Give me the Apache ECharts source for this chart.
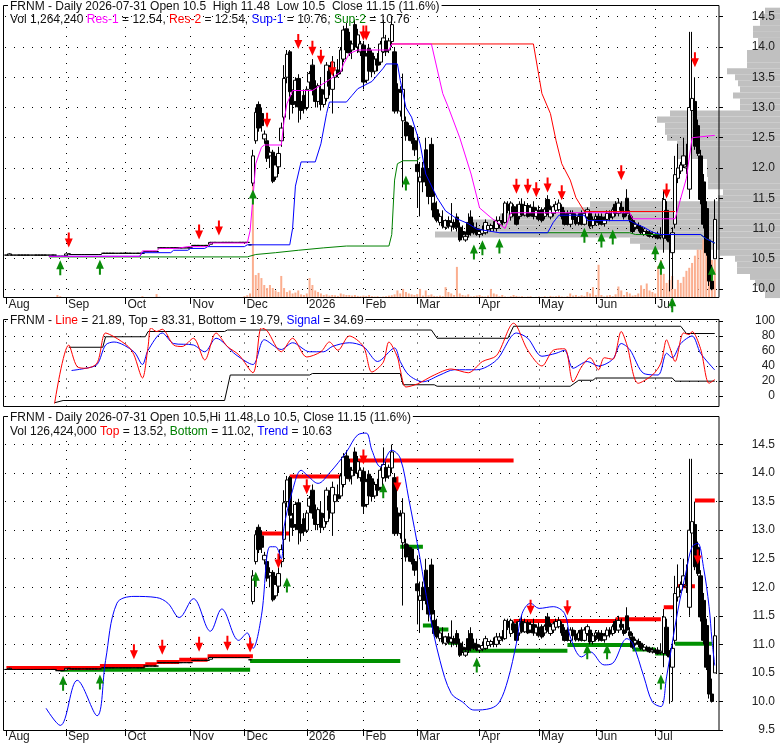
<!DOCTYPE html>
<html><head><meta charset="utf-8">
<script src="https://cdn.jsdelivr.net/npm/echarts@6/dist/echarts.min.js"></script>
<style>html,body{margin:0;padding:0;background:#fff}#c{width:780px;height:745px}</style>
</head><body><div id="c"></div>
<script>
// ---------- categories (trading days) ----------
const holidays = ['2025-09-01','2025-11-27','2025-12-25','2026-01-01','2026-01-19','2026-02-16','2026-04-03','2026-05-25','2026-06-19','2026-07-03'];
const dates = [];
for (let t = Date.UTC(2025,7,1); t <= Date.UTC(2026,6,31); t += 86400000) {
  const d = new Date(t), wd = d.getUTCDay(), s = d.toISOString().slice(0,10);
  if (wd === 0 || wd === 6 || holidays.includes(s)) continue;
  dates.push(s);
}
const cats = dates.concat(['']);
const monthNames = ['Jan','Feb','Mar','Apr','May','Jun','Jul','Aug','Sep','Oct','Nov','Dec'];

// ---------- price data ----------
const open = [
10.56,10.56,10.56,10.56,10.56,10.56,10.56,10.56,10.56,10.56,
10.56,10.56,10.56,10.56,10.56,10.56,10.56,10.56,10.54,10.54,
10.54,10.55,10.58,10.57,10.57,10.57,10.57,10.57,10.57,10.57,
10.57,10.57,10.57,10.57,10.59,10.59,10.59,10.59,10.59,10.59,
10.59,10.59,10.59,10.59,10.59,10.59,10.59,10.59,10.59,10.62,
10.62,10.62,10.62,10.62,10.68,10.68,10.68,10.68,10.68,10.68,
10.68,10.68,10.68,10.68,10.68,10.68,10.72,10.72,10.72,10.72,
10.72,10.72,10.74,10.77,10.77,10.77,10.77,10.77,10.77,10.77,
10.77,10.77,10.77,10.77,10.77,10.77,10.73,
11.75,12.45,13.05,
12.90,12.48,12.45,12.20,12.26,11.85,12.02,12.45,12.84,13.50,
13.92,13.20,13.10,13.48,13.10,13.20,13.00,13.42,13.70,13.30,
13.10,13.30,13.05,13.15,13.60,13.30,13.50,13.62,13.60,13.80,
14.30,14.10,13.95,14.37,14.00,13.92,14.03,13.45,13.98,13.90,
13.60,13.80,13.75,13.92,14.10,13.95,14.09,13.92,13.30,12.94,
12.78,12.76,12.70,12.67,12.45,12.06,11.77,12.00,12.30,11.89,
12.39,11.42,11.31,11.10,11.13,11.02,11.13,11.04,11.10,11.19,
11.02,10.95,10.81,11.10,11.19,11.02,11.00,10.90,10.92,10.93,
10.98,11.00,11.05,11.00,11.07,11.13,11.10,11.40,11.19,11.36,
11.31,11.20,11.40,11.22,11.38,11.25,11.35,11.20,11.30,11.31,
11.20,11.48,11.19,11.25,11.30,11.31,11.35,11.22,11.25,11.07,
11.25,11.18,11.10,11.25,11.07,11.19,11.25,11.05,11.15,11.20,
11.19,11.08,11.15,11.25,11.19,11.40,11.25,11.35,11.25,11.50,
11.22,11.13,11.02,11.05,11.02,10.90,10.95,10.93,10.87,10.90,
10.90,10.86,10.84,11.30,10.84,10.60,11.07,11.83,11.95,12.05,
12.00,11.65,12.95,13.10,12.70,12.20,11.77,11.33,10.81,10.13,
10.50];
const high = [
10.56,10.59,10.56,10.56,10.56,10.56,10.56,10.56,10.56,10.56,
10.56,10.56,10.56,10.56,10.56,10.56,10.56,10.56,10.54,10.54,
10.54,10.58,10.58,10.57,10.57,10.57,10.57,10.57,10.57,10.57,
10.57,10.57,10.57,10.57,10.59,10.59,10.59,10.59,10.59,10.59,
10.59,10.59,10.59,10.59,10.59,10.59,10.59,10.59,10.59,10.62,
10.62,10.62,10.62,10.62,10.68,10.68,10.68,10.68,10.68,10.68,
10.68,10.68,10.68,10.68,10.68,10.68,10.72,10.72,10.72,10.72,
10.72,10.72,10.78,10.77,10.77,10.77,10.77,10.77,10.77,10.77,
10.77,10.77,10.77,10.77,10.77,10.77,10.73,
12.30,13.00,13.10,
13.00,12.62,12.50,12.35,12.30,12.20,12.35,12.75,13.70,13.95,
13.95,13.30,13.50,13.55,13.30,13.30,13.35,13.60,13.80,13.45,
13.40,13.50,13.30,13.75,13.70,13.85,13.70,13.80,14.00,14.35,
14.40,14.25,14.10,14.45,14.30,14.10,14.10,13.90,14.05,13.95,
13.85,13.90,14.10,14.45,14.20,14.15,14.50,14.00,13.40,13.35,
13.56,12.85,12.75,12.70,12.50,12.56,12.10,12.10,12.50,12.00,
12.50,11.60,11.45,11.25,11.30,11.15,11.20,11.42,11.15,11.25,
11.10,11.05,10.95,11.25,11.30,11.10,11.10,11.00,11.05,11.15,
11.10,11.08,11.12,11.20,11.20,11.25,11.45,11.45,11.45,11.40,
11.40,11.45,11.50,11.45,11.42,11.40,11.45,11.35,11.38,11.35,
11.35,11.55,11.38,11.40,11.45,11.48,11.40,11.30,11.30,11.30,
11.30,11.25,11.25,11.30,11.30,11.35,11.30,11.20,11.25,11.25,
11.25,11.20,11.30,11.30,11.35,11.45,11.50,11.45,11.35,11.65,
11.30,11.20,11.10,11.10,11.05,11.00,10.98,10.96,10.95,10.92,
10.95,11.02,11.62,11.45,10.90,11.02,12.20,12.40,12.10,12.50,
12.40,14.25,14.25,13.50,12.80,12.30,11.90,11.45,10.90,10.40,
11.48];
const low = [
10.56,10.56,10.56,10.56,10.56,10.56,10.56,10.56,10.56,10.56,
10.56,10.56,10.56,10.56,10.56,10.56,10.56,10.56,10.54,10.54,
10.54,10.55,10.58,10.57,10.57,10.57,10.57,10.57,10.57,10.57,
10.57,10.57,10.57,10.57,10.59,10.59,10.59,10.59,10.59,10.59,
10.59,10.59,10.59,10.59,10.59,10.59,10.59,10.59,10.59,10.62,
10.62,10.62,10.62,10.62,10.68,10.68,10.68,10.68,10.68,10.68,
10.68,10.68,10.68,10.68,10.68,10.68,10.72,10.72,10.72,10.72,
10.72,10.72,10.74,10.77,10.77,10.77,10.77,10.77,10.77,10.77,
10.77,10.77,10.77,10.77,10.77,10.77,10.73,
11.70,12.40,12.60,
12.60,12.40,12.10,12.00,11.75,11.80,11.90,12.35,12.60,13.40,
12.80,12.90,13.00,12.75,12.80,12.90,12.95,13.30,13.20,13.00,
13.00,12.95,13.00,13.10,13.20,12.90,13.35,13.50,13.55,13.75,
13.90,13.85,13.80,13.95,13.90,13.85,13.30,13.40,13.50,13.50,
13.55,13.60,13.70,13.90,13.85,13.90,14.00,12.90,12.90,12.85,
11.68,12.45,12.45,12.40,12.20,11.35,11.20,11.60,11.70,11.40,
11.30,11.15,11.10,11.05,11.00,10.98,11.00,10.95,10.98,10.95,
10.78,10.85,10.78,10.85,10.88,10.90,10.88,10.85,10.88,10.90,
10.92,10.95,10.95,10.95,11.00,11.05,11.08,11.25,11.13,11.20,
11.05,11.15,11.20,11.20,11.18,11.20,11.15,11.15,11.12,11.10,
11.15,11.22,11.15,11.20,11.25,11.28,11.15,11.05,11.05,11.02,
11.10,11.05,11.05,11.05,11.05,11.15,11.00,11.00,11.05,11.05,
11.05,11.03,11.10,11.12,11.15,11.20,11.20,11.25,11.15,11.20,
11.10,10.92,10.98,10.95,10.90,10.88,10.88,10.85,10.84,10.83,
10.82,10.82,10.60,10.80,9.96,10.00,11.00,11.75,11.90,12.00,
11.90,11.50,12.50,12.30,12.20,11.40,11.00,10.55,10.05,9.98,
10.50];
const close = [
10.56,10.58,10.56,10.56,10.56,10.56,10.56,10.56,10.56,10.56,
10.56,10.56,10.56,10.56,10.56,10.56,10.56,10.56,10.54,10.54,
10.54,10.58,10.58,10.57,10.57,10.57,10.57,10.57,10.57,10.57,
10.57,10.57,10.57,10.57,10.59,10.59,10.59,10.59,10.59,10.59,
10.59,10.59,10.59,10.59,10.59,10.59,10.59,10.59,10.59,10.62,
10.62,10.62,10.62,10.62,10.68,10.68,10.68,10.68,10.68,10.68,
10.68,10.68,10.68,10.68,10.68,10.68,10.72,10.72,10.72,10.72,
10.72,10.72,10.77,10.77,10.77,10.77,10.77,10.77,10.77,10.77,
10.77,10.77,10.77,10.77,10.77,10.77,10.73,
12.20,12.92,12.66,
12.70,12.56,12.16,12.26,11.78,12.05,12.24,12.66,13.48,13.88,
13.26,13.05,13.45,13.01,12.95,12.98,13.30,13.56,13.30,13.10,
13.36,13.05,13.22,13.70,13.35,13.75,13.62,13.55,13.95,14.28,
13.95,13.90,14.05,14.00,14.20,14.05,13.42,13.85,13.60,13.59,
13.80,13.70,14.05,14.15,13.92,14.10,14.37,12.94,13.00,13.25,
13.30,12.53,12.55,12.45,12.30,11.94,11.85,11.77,11.77,11.53,
11.53,11.19,11.13,11.20,11.04,11.13,11.04,11.10,11.02,11.02,
10.81,10.90,10.87,10.90,10.93,10.93,10.90,10.95,10.98,11.10,
11.05,11.05,11.00,11.13,11.13,11.10,11.42,11.30,11.42,11.25,
11.07,11.40,11.22,11.38,11.20,11.35,11.20,11.30,11.15,11.13,
11.32,11.25,11.31,11.36,11.40,11.42,11.20,11.07,11.07,11.25,
11.15,11.08,11.20,11.07,11.25,11.31,11.04,11.15,11.20,11.10,
11.07,11.15,11.25,11.18,11.31,11.25,11.42,11.30,11.19,11.25,
11.15,10.95,11.07,11.00,10.93,10.95,10.90,10.87,10.90,10.86,
10.84,10.88,11.48,10.84,10.78,10.93,11.89,12.00,12.05,12.20,
12.02,13.00,13.15,12.36,12.24,11.48,11.07,10.60,10.13,10.00,
11.15];
// volume, thousands of shares
const volume = [
0,10,0,0,0,0,0,0,0,0,
0,0,0,0,0,0,0,0,100,60,
10,20,10,0,0,0,0,0,0,0,
0,0,0,0,10,0,0,0,0,0,
0,0,0,0,0,0,0,0,60,20,
10,0,0,130,40,0,0,0,0,0,
0,0,0,0,0,0,0,0,0,0,
0,0,10,0,0,0,0,0,0,0,
0,0,0,0,60,90,150,
3860,760,830,
660,430,330,430,330,250,200,730,330,200,
250,150,180,250,120,100,150,660,430,250,
200,150,100,120,80,100,90,70,150,120,
100,100,80,100,70,60,80,70,100,60,
50,60,40,50,60,80,90,120,250,150,
300,200,150,120,100,130,300,80,250,90,
120,70,60,80,60,360,200,150,100,1030,
150,100,80,120,50,60,80,100,60,50,
80,300,150,120,60,100,50,40,60,100,
70,50,60,40,50,60,30,40,50,40,
60,40,70,50,60,80,50,40,60,150,
80,100,60,90,70,200,150,360,100,1100,
100,50,80,100,60,120,380,250,100,200,
150,80,100,150,420,300,480,250,200,150,
1060,1260,800,500,600,730,300,600,500,700,
900,1000,1160,1400,1600,1600,1930,1720,1260,1260,
1264];

// volume by price (thousands), bins of 0.1
const profBins = ['9.9','10.0','10.1','10.2','10.3','10.4','10.5','10.6','10.7','10.8',
'10.9','11.0','11.1','11.2','11.3','11.4','11.5','11.6','11.7','11.8',
'11.9','12.0','12.1','12.2','12.3','12.4','12.5','12.6','12.7','12.8',
'12.9','13.0','13.1','13.2','13.3','13.4','13.5','13.6','13.7','13.8',
'13.9','14.0','14.1','14.2','14.3','14.4','14.5','14.6'];
const profVol = [600,800,1000,1200,1720,1720,1800,2400,5600,6000,
13800,12400,12400,11200,8800,7600,2480,2280,2880,2880,
2920,2920,2920,4120,4120,4120,4520,4600,4600,4920,
4400,1600,1600,1880,1600,1680,1800,2120,1320,1320,
1320,880,880,1080,1080,800,800,600];

// top panel support / resistance lines [dayIndex, price]
const sup1 = [[15,10.54],[47,10.54],[48,10.6],[58,10.6],[59,10.64],[64,10.64],[65,10.67],[70,10.67],[71,10.7],[84,10.7],[85,10.73],[100,10.73],[101,11.0],[102,11.7],[104,12.1],[109,12.1],[111,12.4],[113,12.9],[114,13.09],[120,13.09],[122,13.2],[124,13.31],[129,13.43],[133,13.65],[134,13.72],[138,13.72],[139,13.45],[141,13.0],[143,12.84],[146,12.4],[148,11.9],[152,11.51],[155,11.29],[159,11.16],[163,11.08],[166,10.99],[174,10.93],[191,10.93],[193,11.1],[195,11.22],[204,11.22],[205,11.13],[220,11.13],[222,11.08],[225,11.02],[228,10.94],[231,10.9],[245,10.9],[247,10.83],[250,10.76]];
const sup2 = [[15,10.53],[85,10.53],[88,10.57],[95,10.6],[103,10.64],[112,10.68],[120,10.71],[135,10.71],[136,10.9],[137,11.8],[138,12.07],[140,12.12],[145,12.12],[146,12.18],[147,null],[174,10.93],[220,10.93],[222,10.9],[245,10.9],[247,10.83],[250,10.76]];
const res1 = [[15,10.54],[47,10.54],[48,10.63],[53,10.63],[54,10.67],[60,10.67],[64,10.7],[71,10.7],[72,10.76],[85,10.76],[86,10.96],[87,11.5],[88,12.07],[90,12.34],[91,12.38],[97,12.38],[98,12.78],[99,13.06],[101,13.28],[108,13.28],[110,13.34],[114,13.46],[118,13.59],[119,13.72],[121,13.89],[124,13.95],[135,13.95],[136,14.05],[150,14.05],[154,13.23],[156,13.0],[160,12.5],[164,11.9],[167,11.34],[171,11.18],[176,11.0],[178,11.26],[220,11.26],[221,11.16],[236,11.16],[238,11.5],[240,11.83],[242,12.5],[250,12.54]];
const res2 = [[136,14.05],[186,14.05],[189,13.23],[192,12.9],[194,12.45],[196,12.07],[199,11.8],[201,11.51],[204,11.28],[236,11.28]];
const sellTop = [[22,10.81],[68,10.94],[75,11.01],[92,12.79],[103,14.09],[108,13.98],[111,13.83],[115,13.64],[126,14.23],[127,14.23],[180,11.70],[184,11.70],[187,11.64],[191,11.72],[196,11.59],[217,11.92],[233,11.62],[243,13.79]];
const buyTop = [[19,10.35],[33,10.36],[87,11.52],[141,11.75],[165,10.61],[168,10.68],[174,10.71],[204,10.89],[210,10.81],[214,10.86],[229,10.60],[231,10.36],[235,9.74],[249,10.26]];

// oscillator panel
const oscLine = [[17,-10],[22,68],[25,39],[28,37],[32,44],[35,84],[38,79],[43,66],[45,55],[48,24],[50,66],[51,91],[53,86],[55,89],[59,68],[62,66],[66,77],[70,48],[74,84],[78,66],[82,55],[87,31],[90,91],[92,87],[97,59],[101,77],[106,52],[111,59],[114,72],[117,61],[121,80],[126,66],[129,32],[133,45],[135,72],[138,52],[139,35],[141,12],[145,16],[151,28],[157,36],[163,31],[168,46],[173,54],[179,97],[184,61],[189,40],[193,61],[197,63],[200,19],[203,39],[206,51],[209,35],[211,51],[214,49],[217,86],[219,68],[223,17],[228,28],[231,44],[233,75],[234,66],[236,46],[239,84],[241,82],[242,86],[245,63],[248,17],[250,21.89]];
const oscSignal = [[23,34],[28,37],[32,42],[35,68],[38,72],[45,59],[48,42],[50,61],[55,84],[59,70],[66,68],[70,59],[74,77],[81,55],[87,42],[91,75],[97,62],[101,71],[107,59],[112,59],[115,66],[121,71],[126,66],[131,46],[137,64],[139,46],[142,28],[147,19],[153,28],[158,35],[166,35],[173,48],[180,84],[184,77],[189,53],[194,57],[197,61],[200,37],[205,46],[209,40],[214,49],[217,70],[220,62],[225,30],[230,28],[233,57],[235,51],[238,70],[242,80],[245,57],[250,34.69]];
const oscTop = [[22,65],[34,65],[35,79],[49,79],[50,86],[77,86],[78,88],[150,88],[152,77],[177,77],[179,93],[238,93],[240,83.31],[250,83.31]];
const oscBottom = [[17,-9],[20,-6],[77,-6],[79,28],[107,28],[108,30],[139,30],[140,15],[151,15],[152,13],[199,13],[202,21],[207,21],[208,24],[235,24],[236,19.79],[250,19.79]];

// bottom panel: [fromDay, toDay, level]
const chTop = [[0,33,10.585],[33,49,10.62],[49,53,10.65],[53,61,10.69],[61,71,10.73],[71,87,10.79],[88,100,12.94],[100,121,13.94],[121,179,14.22],[179,215,11.41],[215,231,11.44],[232,236,11.65],[237,243,12.02],[243,250,13.52]];
const chBottom = [[19,86,10.555],[86,139,10.71],[139,147,12.71],[147,151,11.33],[151,156,11.26],[156,160,11.03],[160,198,10.89],[198,221,10.99],[221,229,10.91],[229,235,10.84],[236,249,11.01]];
const trend = [[14,9.88],[19,9.58],[25,10.37],[32,9.75],[35,10.72],[39,11.72],[45,11.84],[53,11.82],[57,11.72],[61,11.47],[66,11.8],[72,11.23],[76,11.62],[82,11.07],[85,11.2],[87,10.93],[90,11.5],[93,12.71],[95,12.71],[97,12.5],[98,13.06],[101,13.7],[104,14.05],[106,13.97],[110,13.82],[114,14.0],[120,14.37],[124,14.67],[127,14.7],[129,14.4],[132,14.11],[136,14.4],[139,14.26],[142,13.55],[146,12.5],[149,11.63],[153,10.72],[157,10.14],[161,9.99],[165,9.85],[171,9.88],[174,9.99],[177,10.38],[180,11.02],[182,11.54],[185,11.72],[188,11.63],[193,11.66],[197,11.54],[199,11.13],[203,10.78],[206,10.87],[211,10.64],[214,10.67],[219,11.1],[221,11.02],[225,10.43],[228,9.99],[231,9.91],[233,10.43],[237,11.6],[240,12.3],[242,12.71],[244,12.77],[246,12.36],[248,11.66],[249,11.08],[250,10.63]];
const sellBot = [[45,10.87],[55,10.95],[68,11.0],[78,11.02],[86,10.99],[96,12.46],[106,13.76],[126,14.28],[138,13.81],[185,11.65],[198,11.64],[244,12.53]];
const buyBot = [[20,10.32],[33,10.34],[88,12.14],[99,12.04],[133,13.69],[166,10.64],[205,10.87],[212,10.87],[231,10.34]];

const yTicksTop = [10,10.5,11,11.5,12,12.5,13,13.5,14,14.5];
const yTicksBot = [9.5,10,10.5,11,11.5,12,12.5,13,13.5,14,14.5];
const yTicksOsc = [0,20,40,60,80,100];

// ---------- build ----------
const FONT = 'Liberation Sans, Arial, sans-serif';
const monthStart = cats.map((d,i) => d !== '' && (i === 0 || d.slice(0,7) !== cats[i-1].slice(0,7)));
const monthIdx = monthStart.map((v,i) => v ? i : -1).filter(i => i > 0);
const candleData = dates.map((d,i) => [open[i], close[i], low[i], high[i]]);
const segLine = segs => { const o = []; segs.forEach(s => { o.push([s[0], s[2]], [s[1], s[2]], [s[1], null]); }); return o; };
const monthFmt = v => v ? (v.slice(5,7) === '01' ? v.slice(0,4) : monthNames[+v.slice(5,7) - 1]) : '';
const gridMarks = yv => ({
  silent: true, symbol: ['none','none'], z: 1, animation: false,
  label: {show: false}, emphasis: {disabled: true},
  lineStyle: {color: '#000', type: [1, 8], width: 1, opacity: 1},
  data: yv.map(v => ({yAxis: v})).concat(monthIdx.map(i => ({xAxis: cats[i]})))
});
const DOWN = 'path://M3,0L5,0L5,6L8,6L4,15L0,6L3,6Z';
const UP = 'path://M4,0L8,9L5,9L5,15L3,15L3,9L0,9Z';
const arrows = (data, up, xi, yi) => ({
  type: 'scatter', xAxisIndex: xi, yAxisIndex: yi, data: data, clip: false, z: 4,
  symbol: up ? UP : DOWN, symbolSize: [8, 15], silent: true,
  itemStyle: {color: up ? '#0a8c0a' : '#ff0000', opacity: 1}
});
const line = (data, color, xi, yi, extra) => Object.assign({
  type: 'line', xAxisIndex: xi, yAxisIndex: yi, data: data, showSymbol: false, symbol: 'none',
  connectNulls: false, silent: true, lineStyle: {color: color, width: 1}, z: 3
}, extra || {});
const xCat = (gi, showLabels) => ({
  type: 'category', gridIndex: gi, data: cats, boundaryGap: true, z: 3,
  axisLine: {show: false},
  axisTick: {show: showLabels, alignWithLabel: true, length: 6, interval: (i) => monthStart[i], lineStyle: {color: '#000'}},
  axisLabel: {show: showLabels, interval: (i) => monthStart[i], formatter: monthFmt, align: 'left', margin: 1,
    padding: [0,0,0,2], fontSize: 12, color: '#222', fontFamily: FONT},
  splitLine: {show: false}
});
const yVal = (gi, min, max, ticks, fmt) => ({
  type: 'value', gridIndex: gi, position: 'right', min: min, max: max, z: 3,
  splitLine: {show: false}, axisLine: {show: false},
  axisTick: {show: true, length: 4, customValues: ticks, lineStyle: {color: '#000'}},
  axisLabel: {customValues: ticks, formatter: fmt, align: 'right', margin: 56, fontSize: 12, color: '#222', fontFamily: FONT}
});
const rs = c => ({color: c, fontSize: 12, fontFamily: FONT, lineHeight: 14});
const tStyle = {fontSize: 12, fontWeight: 'normal', color: '#111', fontFamily: FONT, lineHeight: 14,
  rich: {k: rs('#111'), m: rs('#ff00ff'), r: rs('#ff0000'), b: rs('#0000ff'), g: rs('#008000')}};
const T = (k, s) => '{' + k + '|' + s + '}';

const option = {
  animation: false,
  backgroundColor: '#fff',
  textStyle: {fontFamily: FONT},
  title: [
    {left: 8, top: 0, padding: [0,2], backgroundColor: '#fff', z: 10, textStyle: tStyle,
     text: T('k','FRNM - Daily 2026-07-31 Open 10.5  High 11.48  Low 10.5  Close 11.15 (11.6%)')},
    {left: 8, top: 13, padding: [0,2], z: 10, textStyle: tStyle,
     text: T('k','Vol 1,264,240 ') + T('m','Res-1') + T('k',' = 12.54, ') + T('r','Res-2') + T('k',' = 12.54, ') + T('b','Sup-1') + T('k',' = 10.76, ') + T('g','Sup-2') + T('k',' = 10.76')},
    {left: 8, top: 314, padding: [0,2], backgroundColor: '#fff', z: 10, textStyle: tStyle,
     text: T('k','FRNM - ') + T('r','Line') + T('k',' = 21.89, Top = 83.31, Bottom = 19.79, ') + T('b','Signal') + T('k',' = 34.69')},
    {left: 8, top: 411, padding: [0,2], backgroundColor: '#fff', z: 10, textStyle: tStyle,
     text: T('k','FRNM - Daily 2026-07-31 Open 10.5,Hi 11.48,Lo 10.5, Close 11.15 (11.6%)')},
    {left: 8, top: 425, padding: [0,2], z: 10, textStyle: tStyle,
     text: T('k','Vol 126,424,000 ') + T('r','Top') + T('k',' = 13.52, ') + T('g','Bottom') + T('k',' = 11.02, ') + T('b','Trend') + T('k',' = 10.63')}
  ],
  graphic: [
    {type: 'rect', z: 5, silent: true, shape: {x: 3.5, y: 5.5, width: 715.5, height: 292}, style: {fill: 'none', stroke: '#000', lineWidth: 1}},
    {type: 'rect', z: 5, silent: true, shape: {x: 3.5, y: 319.5, width: 715.5, height: 87}, style: {fill: 'none', stroke: '#000', lineWidth: 1}},
    {type: 'rect', z: 5, silent: true, shape: {x: 3.5, y: 416.5, width: 715.5, height: 314}, style: {fill: 'none', stroke: '#000', lineWidth: 1}}
  ],
  grid: [
    {left: 5, top: 5, width: 714, height: 293, outerBoundsMode: 'none'},
    {left: 5, top: 319.5, width: 714, height: 87, outerBoundsMode: 'none'},
    {left: 5, top: 416, width: 714, height: 314, outerBoundsMode: 'none'},
    {left: 5, right: 0, top: 7.675, height: 290.4, outerBoundsMode: 'none'}
  ],
  xAxis: [
    xCat(0, true), xCat(1, false), xCat(2, true),
    {type: 'value', gridIndex: 3, inverse: true, min: 0, max: 31000, show: false}
  ],
  yAxis: [
    yVal(0, 9.851, 14.694, yTicksTop, v => v.toFixed(1)),
    {type: 'value', gridIndex: 0, min: 0, max: 9700000, show: false},
    yVal(1, -14, 102, yTicksOsc, v => String(v)),
    yVal(2, 9.5, 15, yTicksBot, v => v.toFixed(1)),
    {type: 'category', gridIndex: 3, data: profBins, show: false, boundaryGap: true}
  ],
  series: [
    // top panel
    {type: 'bar', xAxisIndex: 3, yAxisIndex: 4, data: profVol, barWidth: '100%', barCategoryGap: 0, z: 0, silent: true,
     itemStyle: {color: '#c0c0c0'}},
    {type: 'bar', xAxisIndex: 0, yAxisIndex: 1, data: volume.map(v => v * 1000), barWidth: 2, z: 2, silent: true,
     itemStyle: {color: '#fbae8f'}},
    {type: 'candlestick', xAxisIndex: 0, yAxisIndex: 0, data: candleData, barWidth: 4, z: 2, silent: true,
     itemStyle: {color: '#fff', color0: '#000', borderColor: '#000', borderColor0: '#000', borderColorDoji: '#000', borderWidth: 1},
     markLine: gridMarks(yTicksTop)},
    line(sup2, '#008000', 0, 0),
    line(res2, '#ff0000', 0, 0),
    line(sup1, '#0000ff', 0, 0),
    line(res1, '#ff00ff', 0, 0),
    arrows(sellTop, false, 0, 0),
    arrows(buyTop, true, 0, 0),
    // oscillator
    line(oscTop, '#000', 1, 2, {markLine: gridMarks(yTicksOsc)}),
    line(oscBottom, '#000', 1, 2),
    line(oscSignal, '#0000ff', 1, 2, {smooth: 0.3}),
    line(oscLine, '#ff0000', 1, 2, {smooth: 0.3}),
    // bottom panel
    line(segLine(chBottom), '#009000', 2, 3, {lineStyle: {color: '#009000', width: 4}, z: 1}),
    line(segLine(chTop), '#ff0000', 2, 3, {lineStyle: {color: '#ff0000', width: 4}, z: 1}),
    {type: 'candlestick', xAxisIndex: 2, yAxisIndex: 3, data: candleData, barWidth: 4, z: 2, silent: true,
     itemStyle: {color: '#fff', color0: '#000', borderColor: '#000', borderColor0: '#000', borderColorDoji: '#000', borderWidth: 1},
     markLine: gridMarks(yTicksBot.slice(1))},
    line(trend, '#0000ff', 2, 3, {smooth: 0.35}),
    arrows(sellBot, false, 2, 3),
    arrows(buyBot, true, 2, 3)
  ]
};
const chart = echarts.init(document.getElementById('c'), null, {renderer: 'canvas'});
chart.setOption(option);
</script>
</body></html>
